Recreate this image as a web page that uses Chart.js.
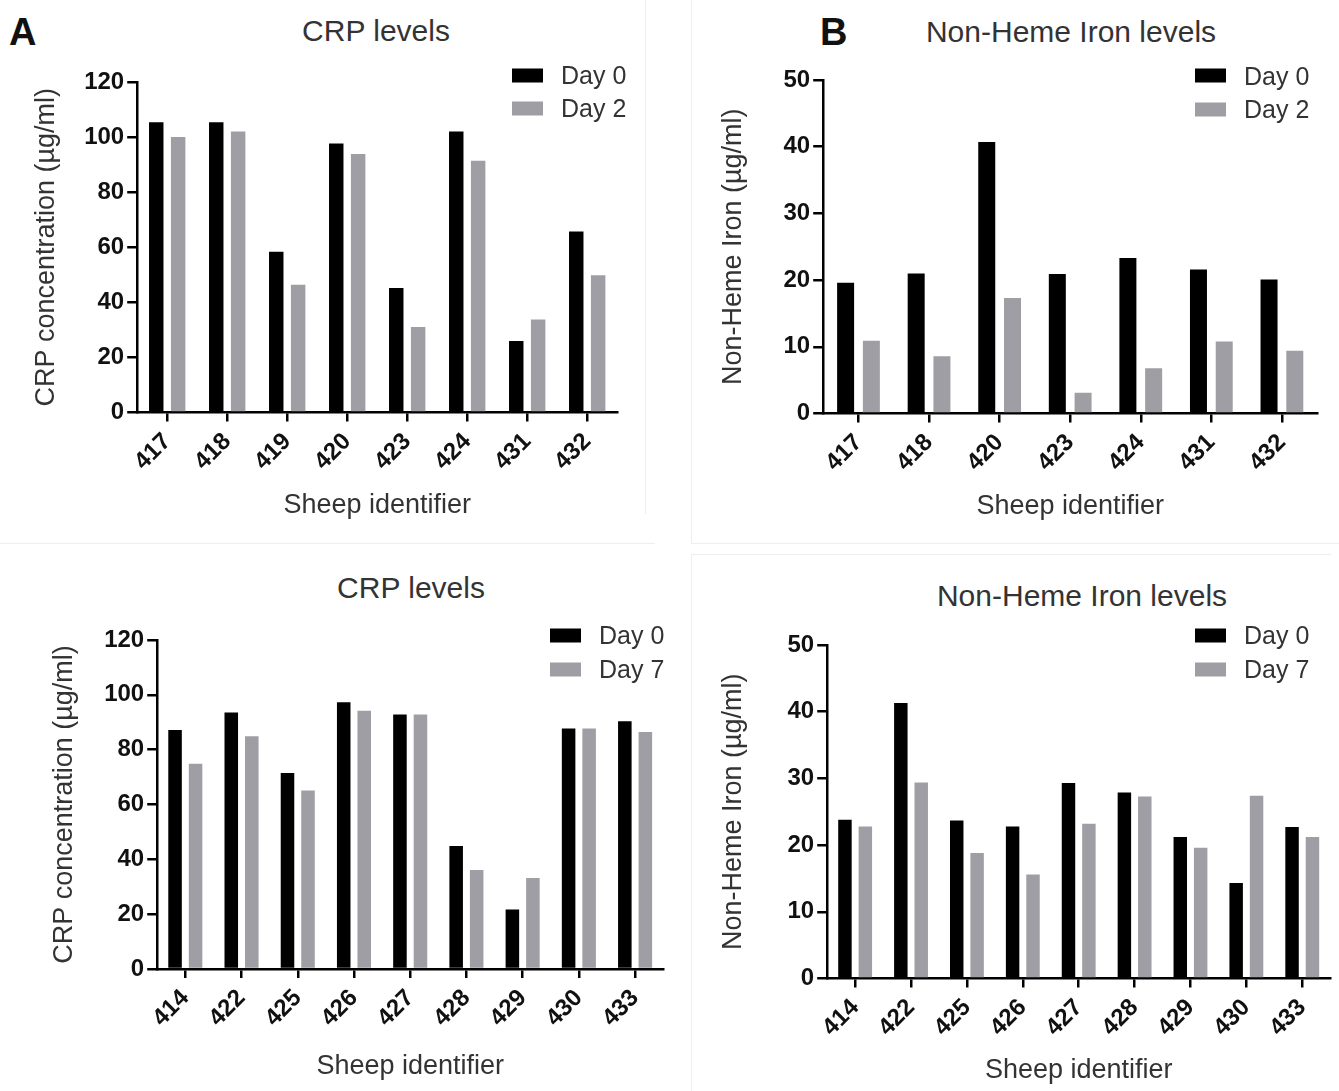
<!DOCTYPE html>
<html>
<head>
<meta charset="utf-8">
<title>CRP and Non-Heme Iron levels</title>
<script src="https://cdn.jsdelivr.net/npm/chart.js@4.4.1/dist/chart.umd.min.js"></script>
<style>
    body { margin: 0; background: #fff; }
    #page {
        position: relative;
        width: 1339px;
        height: 1091px;
        overflow: hidden;
        font-family: "Liberation Sans", Arial, sans-serif;
        color: #333;
    }
    .chart-box { position: absolute; }
    .letter {
        position: absolute;
        font-weight: bold;
        font-size: 38px;
        line-height: 1;
        color: #111;
        transform: translateY(-50%);
    }
    .title {
        position: absolute;
        font-size: 30px;
        line-height: 1;
        white-space: nowrap;
        transform: translate(-50%, -50%);
    }
    .legend-item {
        position: absolute;
        display: flex;
        align-items: center;
        font-size: 25px;
        line-height: 1;
        white-space: nowrap;
        transform: translateY(-50%);
    }
    .legend-item span.swatch {
        display: inline-block;
        width: 31px;
        height: 14px;
        margin-right: 18px;
    }
    .frame { position: absolute; background: #eeeeee; }
</style>
</head>
<body>
<div id="page"></div>
<script>
// values
const crpIdsA = ['417', '418', '419', '420', '423', '424', '431', '432'];
const crpDay0A = [105.4, 105.4, 58.4, 97.7, 45.2, 102.0, 26.0, 65.7];
const crpDay2A = [100.0, 102.0, 46.4, 93.9, 31.0, 91.4, 33.8, 49.8];

const ironIdsB = ['417', '418', '420', '423', '424', '431', '432'];
const ironDay0B = [19.6, 21.0, 40.7, 20.9, 23.3, 21.6, 20.1];
const ironDay2B = [10.9, 8.6, 17.3, 3.1, 6.8, 10.8, 9.4];

const crpIdsC = ['414', '422', '425', '426', '427', '428', '429', '430', '433'];
const crpDay0C = [87.2, 93.6, 71.5, 97.3, 92.8, 44.9, 21.7, 87.7, 90.4];
const crpDay7C = [74.9, 84.9, 65.1, 94.2, 92.8, 36.1, 33.2, 87.7, 86.4];

const ironIdsD = ['414', '422', '425', '426', '427', '428', '429', '430', '433'];
const ironDay0D = [23.8, 41.3, 23.7, 22.8, 29.3, 27.9, 21.2, 14.3, 22.7];
const ironDay7D = [22.8, 29.4, 18.8, 15.6, 23.2, 27.3, 19.6, 27.4, 21.2];

const crpAxis = { max: 120, step: 20 };
const ironAxis = { max: 50, step: 10 };

const BLACK = '#000000';
const GREY = '#a09ea5';
const FONT = '"Liberation Sans", Arial, sans-serif';

// panel geometry (pixels on the page)
const panels = [
    {
        letter: 'A', letterX: 9, letterY: 32,
        title: 'CRP levels', titleX: 376, titleY: 31,
        axisX: 137, axisRight: 617, topY: 82, zeroY: 412.5,
        yTitleX: 46, xTitleY: 506,
        legendX: 512, legendY: [75, 108],
        labels: crpIdsA, series: [crpDay0A, crpDay2A], names: ['Day 0', 'Day 2'],
        axis: crpAxis, yTitle: 'CRP concentration (µg/ml)',
    },
    {
        letter: 'B', letterX: 820, letterY: 32,
        title: 'Non-Heme Iron levels', titleX: 1071, titleY: 32,
        axisX: 823, axisRight: 1317, topY: 79.5, zeroY: 413,
        yTitleX: 733, xTitleY: 506,
        legendX: 1195, legendY: [75.5, 109],
        labels: ironIdsB, series: [ironDay0B, ironDay2B], names: ['Day 0', 'Day 2'],
        axis: ironAxis, yTitle: 'Non-Heme Iron (µg/ml)',
    },
    {
        title: 'CRP levels', titleX: 411, titleY: 588,
        axisX: 157, axisRight: 663, topY: 639.5, zeroY: 968.5,
        yTitleX: 64, xTitleY: 1066,
        legendX: 550, legendY: [635, 669],
        labels: crpIdsC, series: [crpDay0C, crpDay7C], names: ['Day 0', 'Day 7'],
        axis: crpAxis, yTitle: 'CRP concentration (µg/ml)',
    },
    {
        title: 'Non-Heme Iron levels', titleX: 1082, titleY: 596,
        axisX: 827, axisRight: 1330, topY: 645, zeroY: 978.5,
        yTitleX: 733, xTitleY: 1071,
        legendX: 1195, legendY: [635, 669],
        labels: ironIdsD, series: [ironDay0D, ironDay7D], names: ['Day 0', 'Day 7'],
        axis: ironAxis, yTitle: 'Non-Heme Iron (µg/ml)',
    },
];

const frames = [
    { x: 645, y: 0, w: 1, h: 514 },
    { x: 691, y: 0, w: 1, h: 543 },
    { x: 691, y: 543, w: 648, h: 1 },
    { x: 0, y: 543, w: 655, h: 1 },
    { x: 691, y: 554, w: 640, h: 1 },
    { x: 691, y: 554, w: 1, h: 537 },
];

const TITLE_SIZE = 27;
const TICK_SIZE = 24;
const TITLE_HALF = TITLE_SIZE * 1.2 / 2;
const PAD_TOP = 18;
const PAD_RIGHT = 14;

const page = document.getElementById('page');

const addDiv = (cls, text, style) => {
    const node = document.createElement('div');
    node.className = cls;
    if (text) {
        node.textContent = text;
    }
    Object.assign(node.style, style);
    page.appendChild(node);
    return node;
};

frames.forEach((f) => addDiv('frame', '', {
    left: `${f.x}px`, top: `${f.y}px`, width: `${f.w}px`, height: `${f.h}px`,
}));

const axisStyle = {
    grid: {
        display: true,
        drawOnChartArea: false,
        drawTicks: true,
        color: BLACK,
        lineWidth: 2.5,
    },
    border: { display: true, color: BLACK, width: 2.5 },
};

const buildPanel = (p) => {
    const left = p.yTitleX - TITLE_HALF;
    const top = p.topY - PAD_TOP;
    const right = p.axisRight + PAD_RIGHT;
    const bottom = p.xTitleY + TITLE_HALF;
    const yWidth = p.axisX - left;
    const xHeight = bottom - p.zeroY;

    const box = addDiv('chart-box', '', {
        left: `${left}px`, top: `${top}px`,
        width: `${right - left}px`, height: `${bottom - top}px`,
    });
    const canvas = document.createElement('canvas');
    box.appendChild(canvas);

    if (p.letter) {
        addDiv('letter', p.letter, { left: `${p.letterX}px`, top: `${p.letterY}px` });
    }
    addDiv('title', p.title, { left: `${p.titleX}px`, top: `${p.titleY}px` });

    const colors = [BLACK, GREY];

    p.names.forEach((name, i) => {
        const item = addDiv('legend-item', '', { left: `${p.legendX}px`, top: `${p.legendY[i]}px` });
        const swatch = document.createElement('span');
        swatch.className = 'swatch';
        swatch.style.background = colors[i];
        item.appendChild(swatch);
        item.appendChild(document.createTextNode(name));
    });

    return new Chart(canvas, {
        type: 'bar',
        data: {
            labels: p.labels,
            datasets: p.series.map((values, i) => ({
                label: p.names[i],
                data: values,
                backgroundColor: colors[i],
                borderWidth: 0,
                categoryPercentage: 0.73,
                barPercentage: 0.66,
            })),
        },
        options: {
            responsive: true,
            maintainAspectRatio: false,
            animation: false,
            layout: { padding: { top: PAD_TOP, right: PAD_RIGHT, left: 0, bottom: 0 } },
            plugins: {
                legend: { display: false },
                tooltip: { enabled: false },
            },
            scales: {
                x: {
                    offset: true,
                    grid: { ...axisStyle.grid, offset: false, tickLength: 9 },
                    border: axisStyle.border,
                    ticks: {
                        color: '#111',
                        font: { family: FONT, size: TICK_SIZE, weight: 'bold' },
                        minRotation: 45,
                        maxRotation: 45,
                        autoSkip: false,
                        padding: 6,
                    },
                    title: {
                        display: true,
                        text: 'Sheep identifier',
                        color: '#333',
                        font: { family: FONT, size: TITLE_SIZE, lineHeight: 1.2 },
                        padding: 0,
                    },
                    afterFit: (scale) => { scale.height = xHeight; },
                },
                y: {
                    min: 0,
                    max: p.axis.max,
                    grid: { ...axisStyle.grid, tickLength: 10 },
                    border: axisStyle.border,
                    ticks: {
                        stepSize: p.axis.step,
                        color: '#111',
                        font: { family: FONT, size: TICK_SIZE, weight: 'bold' },
                        padding: 3,
                    },
                    title: {
                        display: true,
                        text: p.yTitle,
                        color: '#333',
                        font: { family: FONT, size: TITLE_SIZE, lineHeight: 1.2 },
                        padding: 0,
                    },
                    afterFit: (scale) => { scale.width = yWidth; },
                },
            },
        },
    });
};

panels.forEach(buildPanel);
</script>
</body>
</html>
